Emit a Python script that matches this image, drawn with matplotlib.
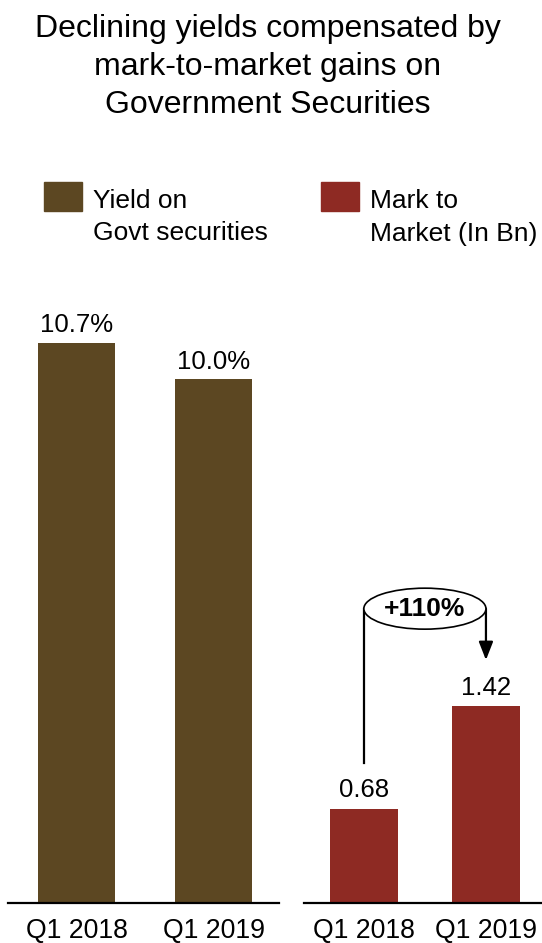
import matplotlib
matplotlib.use("Agg")
import matplotlib.pyplot as plt
from matplotlib.patches import Ellipse, Rectangle

plt.rcParams['font.family'] = ['Liberation Sans', 'DejaVu Sans']

quarters = ["Q1 2018", "Q1 2019"]
yield_pct = [10.7, 10.0]
mtm_bn = [0.68, 1.42]
growth_label = "+110%"

title_lines = ["Declining yields compensated by",
               "mark-to-market gains on",
               "Government Securities"]
legend_yield = ["Yield on", "Govt securities"]
legend_mtm = ["Mark to", "Market (In Bn)"]

BROWN = "#5C4722"
RED = "#8E2A23"

W, H = 542, 943
fig = plt.figure(figsize=(W / 100, H / 100), dpi=100)


def px(x, y):
    # pixel position (from top-left) -> figure fraction
    return x / W, 1 - y / H


def style_axis(ax):
    for s in ['left', 'right', 'top']:
        ax.spines[s].set_visible(False)
    ax.spines['bottom'].set_linewidth(1.6)
    ax.set_yticks([])
    ax.set_xticks(range(len(quarters)))
    ax.set_xticklabels(quarters, fontsize=19.2)
    ax.tick_params(axis='x', length=0, pad=11)


# left panel: yield
ax1 = fig.add_axes([8 / W, 40.5 / H, 271 / W, 622.5 / H])
bars1 = ax1.bar(range(len(quarters)), yield_pct, width=0.56, color=BROWN)
ax1.set_xlim(-0.498, 1.473)
ax1.set_ylim(0, 11.9)
style_axis(ax1)
for b, v in zip(bars1, yield_pct):
    ax1.annotate(f"{v:.1f}%", (b.get_x() + b.get_width() / 2, v),
                 xytext=(0, 7.5), textcoords='offset points',
                 ha='center', va='baseline', fontsize=18.5)

# right panel: mark to market
ax2 = fig.add_axes([304 / W, 40 / H, 238 / W, 623 / H])
bars2 = ax2.bar(range(len(quarters)), mtm_bn, width=0.557, color=RED)
ax2.set_xlim(-0.49, 1.459)
ax2.set_ylim(0, 4.5)
style_axis(ax2)
for b, v in zip(bars2, mtm_bn):
    ax2.annotate(f"{v:.2f}", (b.get_x() + b.get_width() / 2, v),
                 xytext=(0, 8.5), textcoords='offset points',
                 ha='center', va='baseline', fontsize=18.5)

# growth bracket with ellipse
top = 2.126
ax2.plot([0, 0], [1.01, top], color='black', lw=1.6, clip_on=False)
ax2.annotate("", xy=(1, 1.755), xytext=(1, top),
             arrowprops=dict(arrowstyle='-|>,head_width=0.43,head_length=1.1',
                             color='black', lw=1.6, shrinkA=0, shrinkB=0))
ax2.add_patch(Ellipse((0.5, top), 1.0, 0.296, facecolor='white',
                      edgecolor='black', lw=1.2, zorder=3))
ax2.text(0.5, top, growth_label, ha='center', va='center',
         fontsize=19, fontweight='bold', zorder=4)

# title
for i, line in enumerate(title_lines):
    fig.text(*px(268, 36.5 + i * 38.2), line, ha='center', va='baseline',
             fontsize=23)

# legend
for x0, color, lines in [(44, BROWN, legend_yield), (321, RED, legend_mtm)]:
    fx, fy = px(x0, 211)
    fig.add_artist(Rectangle((fx, fy), 38 / W, 29 / H, color=color,
                             transform=fig.transFigure))
    for i, line in enumerate(lines):
        fig.text(*px(x0 + 49, 207.5 + i * 33), line, ha='left',
                 va='baseline', fontsize=19)

fig.savefig("out.png", dpi=100)
